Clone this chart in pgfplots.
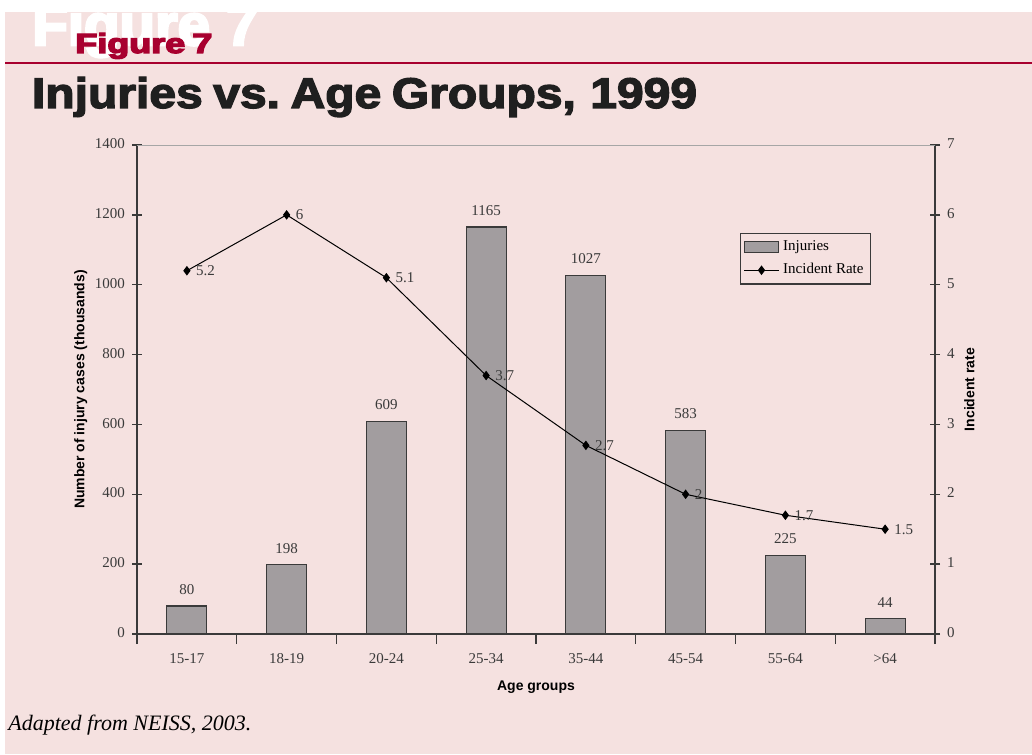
\documentclass[border=0pt]{standalone}
\usepackage{fontspec}
\setmainfont{Liberation Serif}
\setsansfont{Liberation Sans}
\newfontfamily\heavy{Liberation Sans Bold}[FakeBold=3]
\newfontfamily\heavier{Liberation Sans Bold}[FakeBold=4.5]
\usepackage{pgfplots}
\usepackage{pgfplotstable}
\pgfplotsset{compat=1.18}

\definecolor{bgpink}{HTML}{F5E1E0}
\definecolor{figred}{HTML}{A8002F}
\definecolor{bargray}{HTML}{A29D9F}
\definecolor{axisdark}{HTML}{3A3A3A}

% age group index, injuries (thousands), incident rate
\pgfplotstableread{
x inj rate
0 80 5.2
1 198 6
2 609 5.1
3 1165 3.7
4 1027 2.7
5 583 2
6 225 1.7
7 44 1.5
}\injdata

\pgfplotsset{
  common/.style={
    at={(68.5pt,60pt)}, anchor=south west,
    scale only axis, width=399pt, height=244.5pt,
    xmin=-0.5, xmax=7.5,
    tick align=center,
    major tick length=5pt, minor tick length=5pt,
    every tick/.style={axisdark, line width=0.7pt},
    axis line style={axisdark, line width=0.75pt},
    /pgf/number format/assume math mode=true,
    /pgf/number format/1000 sep={},
    typeset ticklabels with strut,
    tick label style={font=\fontsize{7.5}{9}\selectfont, text=axisdark},
    label style={font=\sffamily\bfseries\fontsize{7}{8}\selectfont},
  }
}

\begin{document}
\begin{tikzpicture}
\useasboundingbox (0,0) rectangle (516pt,377pt);
\fill[white] (0,0) rectangle (516pt,377pt);
\fill[bgpink] (2.5pt,0) rectangle (516pt,371pt);
% header
\node[anchor=base west, inner sep=0, text=white] at (16pt,354.5pt)
  {\resizebox{113pt}{!}{\heavier Figure 7}};
\fill[white] (0,371pt) rectangle (516pt,377pt);
\node[anchor=base west, inner sep=0, text=figred] at (37.5pt,350.5pt)
  {\resizebox{68.5pt}{10pt}{\heavier Figure\hspace{0.2em}7}};
\draw[figred, line width=1pt] (2.5pt,345.5pt) -- (516pt,345.5pt);
\node[anchor=base west, inner sep=0, text=black!88] at (15.8pt,323pt)
  {\resizebox{332.5pt}{15.5pt}{\heavy Injuries\hspace{0.22em}vs.\hspace{0.22em}Age\hspace{0.22em}Groups,\hspace{0.3em}1999}};
\node[anchor=base west, inner sep=0] at (4pt,12pt)
  {\fontsize{11}{13}\selectfont\itshape Adapted from NEISS, 2003.};

\begin{axis}[
  common,
  ymin=0, ymax=1400,
  axis x line*=bottom, axis y line*=left,
  xtick={0,...,7},
  xticklabels={15-17,18-19,20-24,25-34,35-44,45-54,55-64,>64},
  major x tick style={draw=none},
  minor xtick={-0.5,0.5,...,7.5},
  ytick={0,200,...,1400},
  xlabel={Age groups},
  ylabel={Number of injury cases (thousands)},
  xlabel style={yshift=1pt},
  ylabel style={yshift=-3pt},
  ybar, bar width=20pt,
  nodes near coords,
  every node near coord/.append style={font=\fontsize{7.5}{9}\selectfont,
    text=axisdark, yshift=2pt},
]
\addplot[fill=bargray, draw=axisdark, line width=0.6pt] table[x=x, y=inj] {\injdata};
\end{axis}

\begin{axis}[
  common,
  ymin=0, ymax=7,
  axis y line*=right, axis x line=none,
  ytick={0,...,7},
  ylabel={Incident rate},
  ylabel style={yshift=2pt},
  legend style={at={(0.92,0.82)}, anchor=north east, draw=axisdark,
    fill=none, font=\fontsize{7.5}{9}\selectfont, inner sep=1.5pt,
    row sep=1pt, line width=0.6pt},
  legend cell align=left,
]
\draw[gray!70, line width=0.6pt] (rel axis cs:0,1) -- (rel axis cs:1,1);
\addlegendimage{area legend, fill=bargray, draw=axisdark}
\addlegendentry{Injuries}
\addplot[black, line width=0.5pt, mark=diamond*, mark size=2pt,
  nodes near coords,
  every node near coord/.append style={anchor=west, xshift=1pt,
    font=\fontsize{7.5}{9}\selectfont, text=axisdark}]
  table[x=x, y=rate] {\injdata};
\addlegendentry{Incident Rate}
\end{axis}
\end{tikzpicture}
\end{document}
